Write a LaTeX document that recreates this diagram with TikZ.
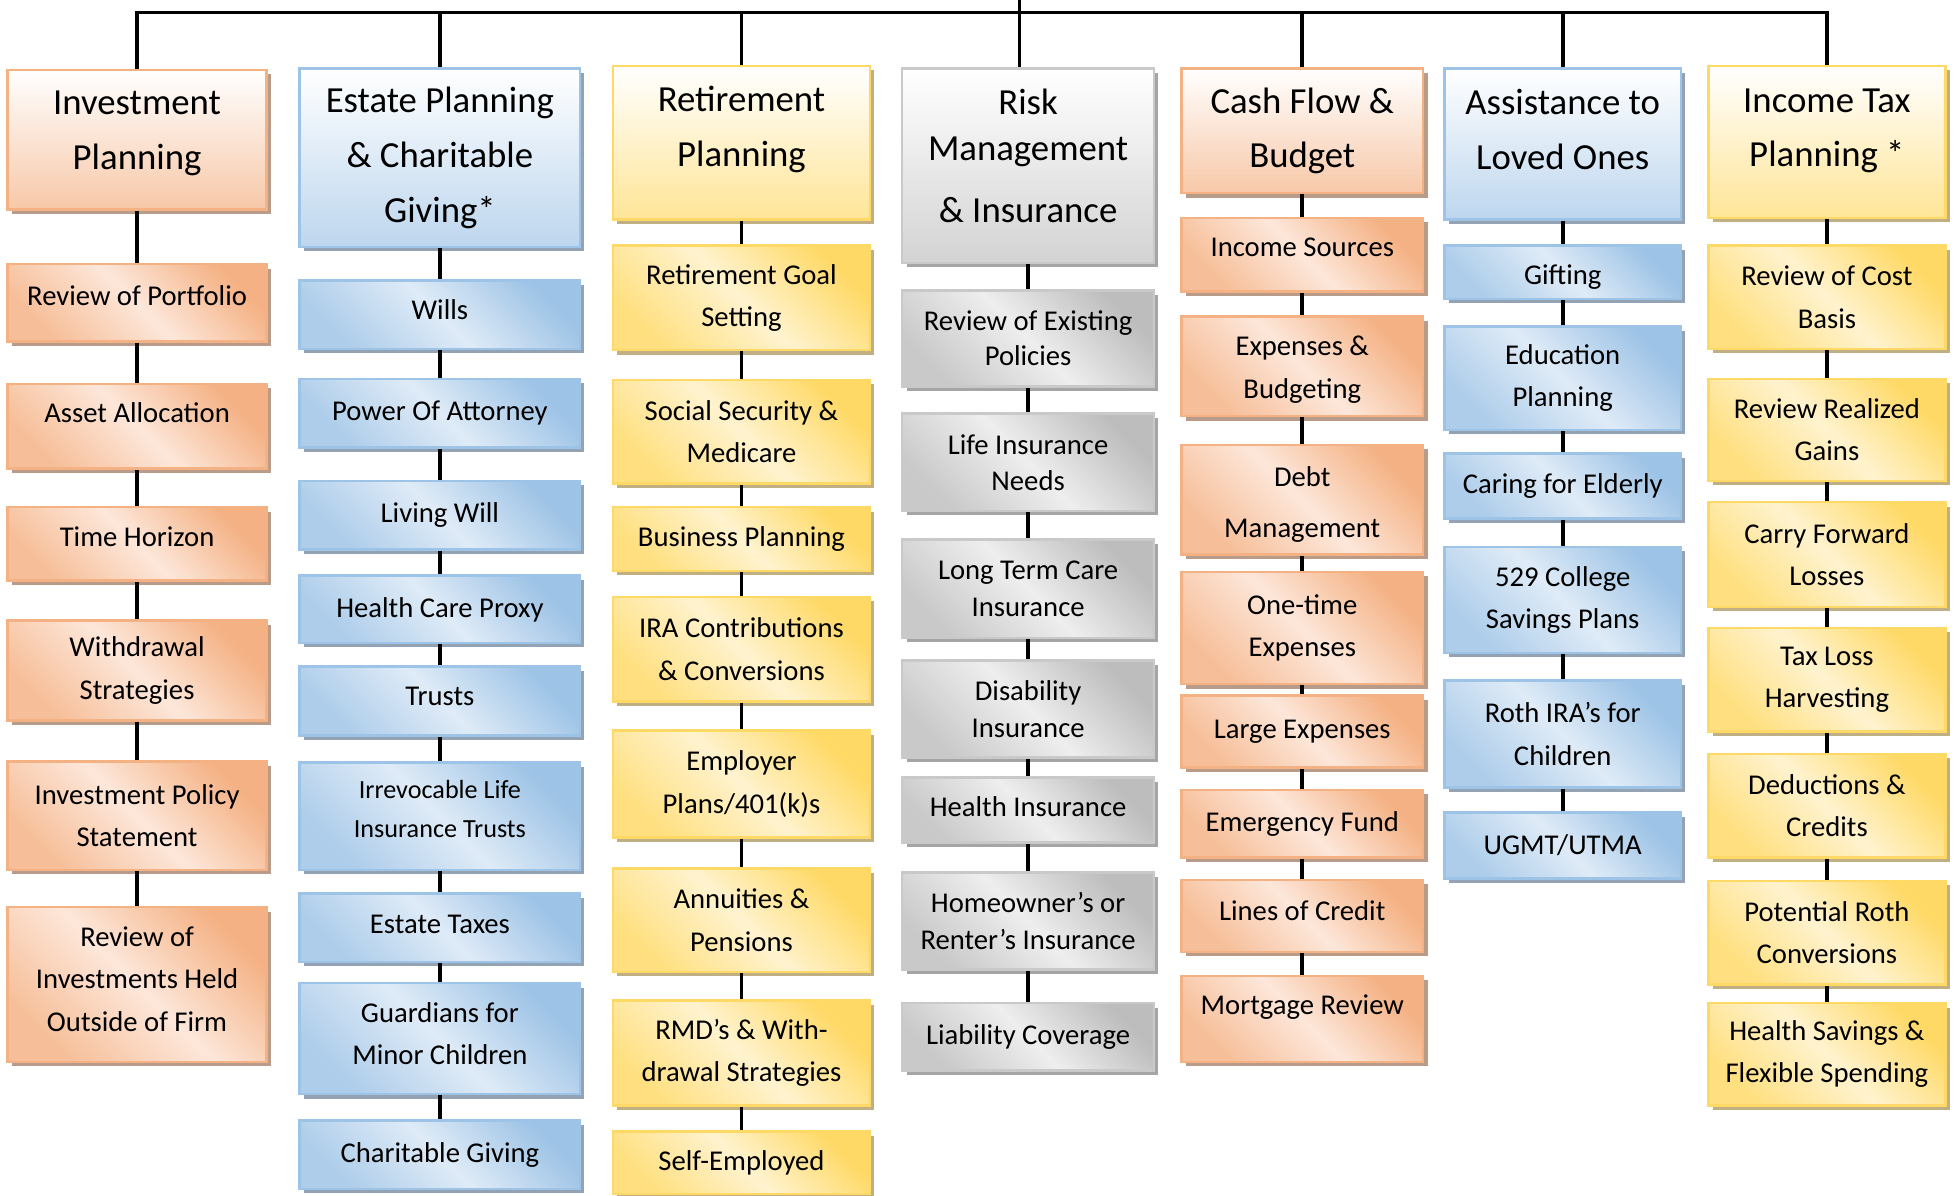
\documentclass[tikz,border=0pt]{standalone}
\usepackage{fontspec}
\setmainfont{Carlito}
\usetikzlibrary{shadows}

\definecolor{orgline}{HTML}{F4B183}
\definecolor{orgdark}{HTML}{F4B183}
\definecolor{orglight}{HTML}{FDE7DA}
\definecolor{orghead}{HTML}{F7C8A8}
\definecolor{orgshadow}{HTML}{B99B8A}
\definecolor{bluline}{HTML}{9DC3E6}
\definecolor{bludark}{HTML}{9DC3E6}
\definecolor{blulight}{HTML}{DFEBF7}
\definecolor{bluhead}{HTML}{BDD6EE}
\definecolor{blushadow}{HTML}{94A3B4}
\definecolor{yelline}{HTML}{FFD966}
\definecolor{yeldark}{HTML}{FFD966}
\definecolor{yellight}{HTML}{FFF3CF}
\definecolor{yelhead}{HTML}{FFE597}
\definecolor{yelshadow}{HTML}{BFAF83}
\definecolor{gryline}{HTML}{C9C9C9}
\definecolor{grydark}{HTML}{BDBDBD}
\definecolor{grylight}{HTML}{EEEEEE}
\definecolor{gryhead}{HTML}{D3D3D3}
\definecolor{gryshadow}{HTML}{A5A5A5}

\newcommand\hdrfont{\fontsize{29.5}{44}\selectfont}
\newcommand\itemfont{\fontsize{23}{34}\selectfont}
\newcommand\padbelow[1]{\rule[-#1]{0pt}{#1}}
\newcommand\padabove[1]{\rule{0pt}{#1}}

\tikzset{
  catbox/.style={draw=#1line, line width=2pt, inner sep=0pt, align=center,
    drop shadow={shadow xshift=3.5pt, shadow yshift=-3.5pt, fill=#1shadow, opacity=1}},
  headbox/.style={catbox=#1, top color=white, bottom color=#1head, font=\hdrfont},
  subbox/.style={catbox=#1, top color=#1dark, bottom color=#1dark!75!#1light,
    middle color=#1light, shading angle=-45, font=\itemfont},
  wh/.style 2 args={minimum width=#1pt, minimum height=#2pt},
  tight/.style={font=\fontsize{23}{29}\selectfont},
  conn/.style={line width=3pt},
}

\begin{document}
\begin{tikzpicture}[x=1pt,y=-1pt]
  \useasboundingbox (0,0) rectangle (1568,959);
  \coordinate (bar) at (0,10);
  \coordinate (root) at (818,0);

  % Investment Planning
  \node[headbox=org, wh={208}{112}] (inv) at (110,112) {Investment\\Planning\padbelow{15pt}};
  \node[subbox=org, wh={208}{62}] (ip1) at (110,243) {Review of Portfolio\padbelow{12pt}};
  \node[subbox=org, wh={208}{68}] (ip2) at (110,342) {Asset Allocation\padbelow{22pt}};
  \node[subbox=org, wh={208}{59}] (ip3) at (110,436.5) {Time Horizon\padbelow{12pt}};
  \node[subbox=org, wh={208}{80}] (ip4) at (110,538) {Withdrawal\\Strategies};
  \node[subbox=org, wh={208}{87}] (ip5) at (110,654.5) {Investment Policy\\Statement};
  \node[subbox=org, wh={208}{124}] (ip6) at (110,790) {Review of\\Investments Held\\Outside of Firm\padbelow{9pt}};

  % Estate Planning
  \node[headbox=blu, wh={225}{143}] (est) at (353,126.5) {Estate Planning\\\& Charitable\\Giving*};
  \node[subbox=blu, wh={225}{55}] (ep1) at (353,252.5) {Wills\padbelow{8pt}};
  \node[subbox=blu, wh={225}{55}] (ep2) at (353,331.5) {Power Of Attorney};
  \node[subbox=blu, wh={225}{55}] (ep3) at (353,413.5) {Living Will};
  \node[subbox=blu, wh={225}{54}] (ep4) at (353,489) {Health Care Proxy};
  \node[subbox=blu, wh={225}{55}] (ep5) at (353,562.5) {Trusts\padbelow{8pt}};
  \node[subbox=blu, wh={225}{86}, font=\fontsize{21}{31}\selectfont] (ep6) at (353,655) {Irrevocable Life\\Insurance Trusts\padbelow{12pt}};
  \node[subbox=blu, wh={225}{55}] (ep7) at (353,744.5) {Estate Taxes\padbelow{6pt}};
  \node[subbox=blu, wh={225}{89}] (ep8) at (353,833.5) {Guardians for\\Minor Children\padbelow{8pt}};
  \node[subbox=blu, wh={225}{55}] (ep9) at (353,926.5) {Charitable Giving};

  % Retirement Planning
  \node[headbox=yel, wh={206}{123}] (ret) at (595,114.5) {Retirement\\Planning\padbelow{26pt}};
  \node[subbox=yel, wh={206}{84}] (rp1) at (595,239) {Retirement Goal\\Setting};
  \node[subbox=yel, wh={206}{83}] (rp2) at (595,346.5) {Social Security \&\\Medicare};
  \node[subbox=yel, wh={206}{51}] (rp3) at (595,432.5) {Business Planning};
  \node[subbox=yel, wh={206}{84}] (rp4) at (595,521) {IRA Contributions\\\& Conversions};
  \node[subbox=yel, wh={206}{86}] (rp5) at (595,629) {Employer\\Plans/401(k)s};
  \node[subbox=yel, wh={206}{83}] (rp6) at (595,738.5) {Annuities \&\\Pensions};
  \node[subbox=yel, wh={206}{84}] (rp7) at (595,845) {RMD’s \& With-\\drawal Strategies};
  \node[subbox=yel, wh={206}{50}] (rp8) at (595,933) {Self-Employed};

  % Risk Management
  \node[headbox=gry, wh={202}{156}] (risk) at (825,133) {Risk\\[-7pt]Management\\[6pt]\& Insurance\padbelow{16pt}};
  \node[subbox=gry, tight, wh={202}{77}] (rm1) at (825,271.5) {Review of Existing\\[-1pt]Policies};
  \node[subbox=gry, tight, wh={202}{78}] (rm2) at (825,371) {Life Insurance\\Needs};
  \node[subbox=gry, tight, wh={202}{79}] (rm3) at (825,472.5) {Long Term Care\\Insurance};
  \node[subbox=gry, tight, wh={202}{78}] (rm4) at (825,569) {Disability\\Insurance};
  \node[subbox=gry, tight, wh={202}{52}] (rm5) at (825,650) {Health Insurance\padbelow{6pt}};
  \node[subbox=gry, tight, wh={202}{78}] (rm6) at (825,739) {Homeowner’s or\\Renter’s Insurance};
  \node[subbox=gry, tight, wh={202}{54}] (rm7) at (825,832) {Liability Coverage};

  % Cash Flow
  \node[headbox=org, wh={194}{100}] (cash) at (1045,105) {Cash Flow \&\\Budget};
  \node[subbox=org, wh={194}{59}] (cf1) at (1045,204.5) {Income Sources\padbelow{12pt}};
  \node[subbox=org, wh={194}{80}] (cf2) at (1045,294) {\padabove{21pt}Expenses \&\\Budgeting};
  \node[subbox=org, wh={194}{88}] (cf3) at (1045,401) {\padabove{23pt}Debt\\[7pt]Management};
  \node[subbox=org, wh={194}{90}] (cf4) at (1045,504) {One-time\\Expenses};
  \node[subbox=org, wh={194}{58}] (cf5) at (1045,587) {Large Expenses};
  \node[subbox=org, wh={194}{54}] (cf6) at (1045,661) {Emergency Fund};
  \node[subbox=org, wh={194}{58}] (cf7) at (1045,735) {Lines of Credit\padbelow{8pt}};
  \node[subbox=org, wh={194}{69}] (cf8) at (1045,817.5) {Mortgage Review\padbelow{22pt}};

  % Assistance to Loved Ones
  \node[headbox=blu, wh={190}{121}] (ast) at (1254,115.5) {Assistance to\\Loved Ones\padbelow{23pt}};
  \node[subbox=blu, wh={190}{43}] (al1) at (1254,218.5) {\padabove{23pt}Gifting};
  \node[subbox=blu, wh={190}{83}] (al2) at (1254,303.5) {Education\\Planning};
  \node[subbox=blu, wh={190}{52}] (al3) at (1254,390) {Caring for Elderly};
  \node[subbox=blu, wh={190}{85}] (al4) at (1254,481.5) {529 College\\Savings Plans};
  \node[subbox=blu, wh={190}{86}] (al5) at (1254,589) {Roth IRA’s for\\Children};
  \node[subbox=blu, wh={190}{53}] (al6) at (1254,678.5) {UGMT/UTMA};

  % Income Tax Planning
  \node[headbox=yel, wh={190}{122}] (tax) at (1466,114) {Income Tax\\Planning *\padbelow{23pt}};
  \node[subbox=yel, wh={190}{83}] (tp1) at (1466,238.5) {Review of Cost\\Basis};
  \node[subbox=yel, wh={190}{82}] (tp2) at (1466,345) {Review Realized\\Gains};
  \node[subbox=yel, wh={190}{84}] (tp3) at (1466,445) {Carry Forward\\Losses};
  \node[subbox=yel, wh={190}{83}] (tp4) at (1466,545.5) {Tax Loss\\Harvesting};
  \node[subbox=yel, wh={190}{83}] (tp5) at (1466,646.5) {Deductions \&\\Credits};
  \node[subbox=yel, wh={190}{83}] (tp6) at (1466,748.5) {Potential Roth\\Conversions};
  \node[subbox=yel, wh={190}{82}] (tp7) at (1466,846) {Health Savings \&\\Flexible Spending};

  % top bar
  \draw[conn] (inv.north) -- (inv.north |- bar) -- (tax.north |- bar) -- (tax.north);
  \foreach \n in {est,ret,cash,ast}
    \draw[conn] (\n.north) -- (\n.north |- bar);
  \draw[conn] (root) -- (root |- risk.north);

  % columns
  \foreach \a/\b in {inv/ip1,ip1/ip2,ip2/ip3,ip3/ip4,ip4/ip5,ip5/ip6}
    \draw[conn] (\a.south) -- (\b.north);
  \foreach \a/\b in {est/ep1,ep1/ep2,ep2/ep3,ep3/ep4,ep4/ep5,ep5/ep6,ep6/ep7,ep7/ep8,ep8/ep9}
    \draw[conn] (\a.south) -- (\b.north);
  \foreach \a/\b in {ret/rp1,rp1/rp2,rp2/rp3,rp3/rp4,rp4/rp5,rp5/rp6,rp6/rp7,rp7/rp8}
    \draw[conn] (\a.south) -- (\b.north);
  \foreach \a/\b in {risk/rm1,rm1/rm2,rm2/rm3,rm3/rm4,rm4/rm5,rm5/rm6,rm6/rm7}
    \draw[conn] (\a.south) -- (\b.north);
  \foreach \a/\b in {cash/cf1,cf1/cf2,cf2/cf3,cf3/cf4,cf4/cf5,cf5/cf6,cf6/cf7,cf7/cf8}
    \draw[conn] (\a.south) -- (\b.north);
  \foreach \a/\b in {ast/al1,al1/al2,al2/al3,al3/al4,al4/al5,al5/al6}
    \draw[conn] (\a.south) -- (\b.north);
  \foreach \a/\b in {tax/tp1,tp1/tp2,tp2/tp3,tp3/tp4,tp4/tp5,tp5/tp6,tp6/tp7}
    \draw[conn] (\a.south) -- (\b.north);
\end{tikzpicture}
\end{document}
